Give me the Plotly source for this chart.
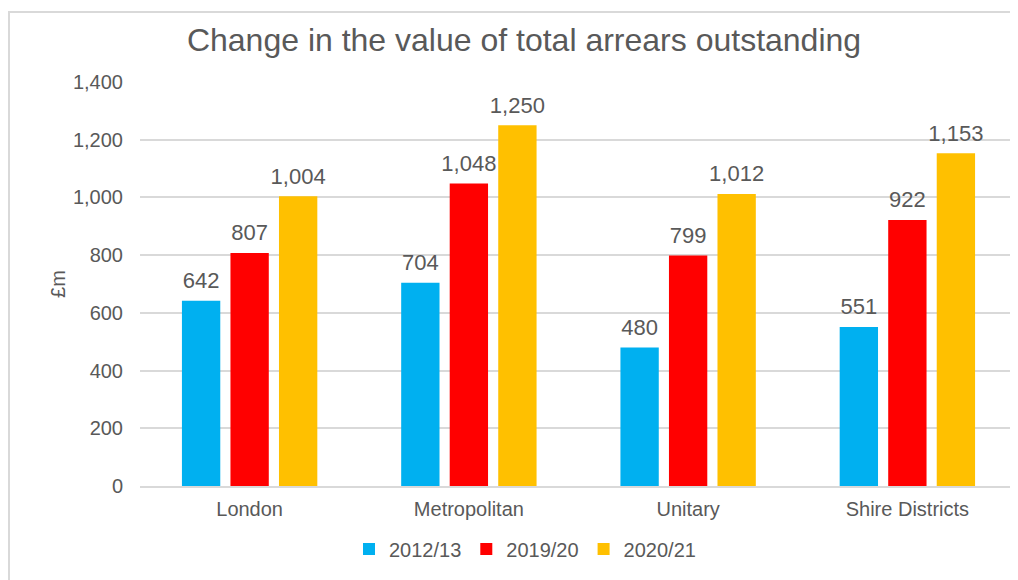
import plotly.graph_objects as go

categories = ["London", "Metropolitan", "Unitary", "Shire Districts"]
series_names = ["2012/13", "2019/20", "2020/21"]
values_2012_13 = [642, 704, 480, 551]
values_2019_20 = [807, 1048, 799, 922]
values_2020_21 = [1004, 1250, 1012, 1153]
colors = ["#00B0F0", "#FF0000", "#FFC000"]
y_ticks = [0, 200, 400, 600, 800, 1000, 1200, 1400]

TXT = "#595959"
FONT = "Liberation Sans, Arial, sans-serif"

fig = go.Figure()
series = list(zip(series_names, [values_2012_13, values_2019_20, values_2020_21], colors))
for name, vals, col in series:
    fig.add_trace(go.Bar(
        x=categories, y=vals, name=name, offsetgroup=name,
        marker=dict(color=col, line=dict(width=0)),
    ))
# data labels: grouped scatter text sitting above each bar
for name, vals, col in series:
    fig.add_trace(go.Scatter(
        x=categories, y=vals, mode="markers+text", offsetgroup=name,
        text=[f"{v:,}" for v in vals], textposition="top center",
        textfont=dict(size=22, color=TXT, family=FONT),
        marker=dict(size=10, opacity=0), showlegend=False, hoverinfo="skip",
        cliponaxis=False,
    ))

# page body has an 8px margin, so the figure is drawn 8px smaller
OFF = 8
W, H = 1018 - OFF, 580 - OFF
L, R, T, B = 140 - OFF, 1, 82 - OFF, 94
pw, ph = W - L - R, H - T - B

fig.update_layout(
    width=W, height=H,
    margin=dict(l=L, r=R, t=T, b=B, autoexpand=False),
    paper_bgcolor="white", plot_bgcolor="white",
    barmode="group", bargap=0.336, bargroupgap=0.21,
    scattermode="group", scattergap=0.336,
    font=dict(family=FONT, color=TXT, size=20),
    title=dict(text="Change in the value of total arrears outstanding",
               x=(524 - OFF) / W, xanchor="center", xref="container",
               y=1 - (40 - OFF) / H, yanchor="middle", yref="container",
               font=dict(size=32, color=TXT, family=FONT)),
    showlegend=True,
    legend=dict(orientation="h", xref="container", x=(525 - OFF) / W, xanchor="center",
                yref="container", y=1 - (549 - OFF) / H, yanchor="middle",
                font=dict(size=20, color=TXT), itemwidth=30, traceorder="normal"),
    yaxis=dict(range=[0, 1400], tickvals=y_ticks, tickformat=",", showgrid=True,
               gridcolor="#D9D9D9", gridwidth=1.5, zeroline=False,
               showline=False, ticklabelstandoff=16,
               tickfont=dict(size=20, color=TXT),
               title=dict(text="£m", standoff=1, font=dict(size=20, color=TXT))),
    xaxis=dict(showline=True, linecolor="#D9D9D9", linewidth=1.5,
               tickfont=dict(size=20, color=TXT), ticks="", ticklabelstandoff=4),
)

# outer chart border (left and top visible)
fig.add_shape(type="rect", xref="paper", yref="paper",
              x0=(9 - OFF - L) / pw, x1=(W + 10 - L) / pw,
              y0=-(B + 10) / ph, y1=(H - B - (4 - OFF) - 8) / ph,
              line=dict(color="#D9D9D9", width=2), fillcolor="rgba(0,0,0,0)", layer="below")

fig.write_html("out.html")
